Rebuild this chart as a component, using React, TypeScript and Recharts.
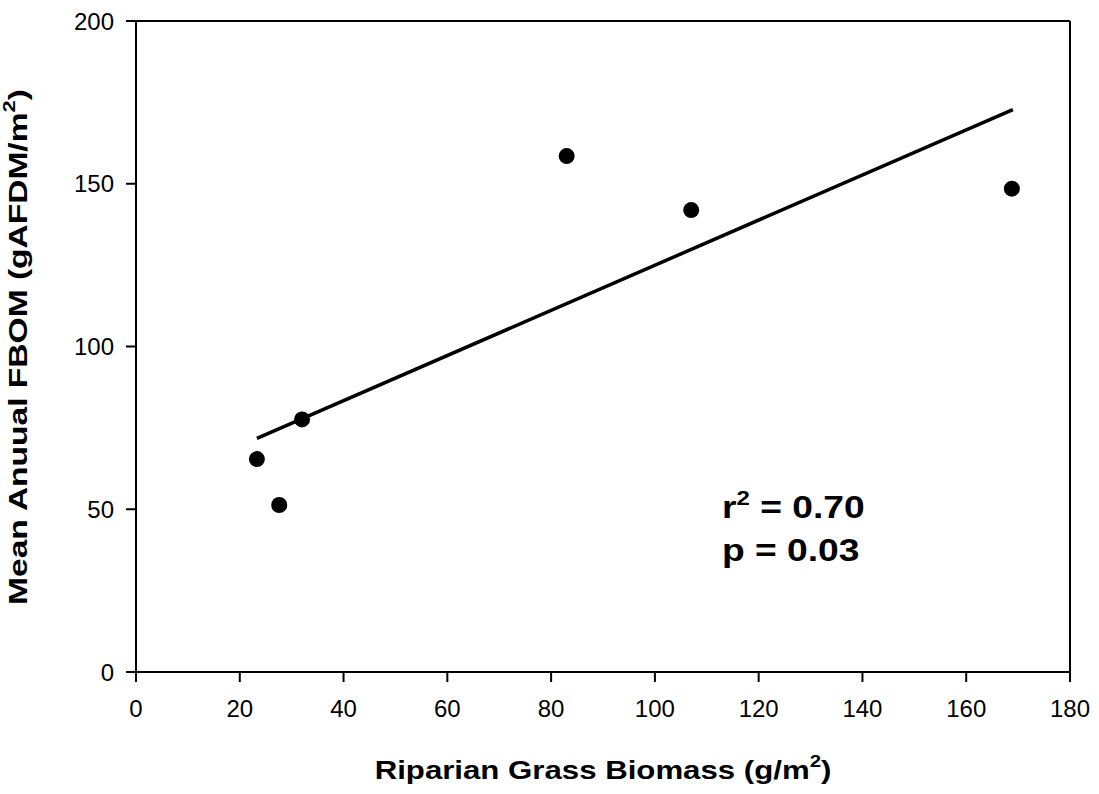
import { ReferenceLine, Scatter, ScatterChart, XAxis, YAxis } from 'recharts';

// observed sites
const biomass = [23.3, 27.6, 32, 83, 107, 168.8];
const fbom = [65.4, 51.3, 77.6, 158.5, 141.9, 148.5];

// fitted regression line end points
const fitX = [23.3, 169];
const fitY = [71.8, 172.8];

const xTicks = [0, 20, 40, 60, 80, 100, 120, 140, 160, 180];
const yTicks = [0, 50, 100, 150, 200];

const FONT = '"Liberation Sans", Arial, sans-serif';

const App = () => {
    const points = biomass.map((x, i) => ({ x, y: fbom[i] }));
    const fit = fitX.map((x, i) => ({ x, y: fitY[i] }));

    const tickStyle = { fill: '#000', fontSize: 24, fontFamily: FONT };
    const axisLine = { stroke: '#000', strokeWidth: 2 };

    return (
        <div style={{ position: 'absolute', left: 0, top: 0, width: 1099, height: 794, background: '#fff' }}>
            <ScatterChart width={1099} height={794} margin={{ top: 21, right: 29, bottom: 0, left: 0 }}>
                <XAxis type="number" dataKey="x" domain={[0, 180]} ticks={xTicks} height={122}
                    tick={tickStyle} tickSize={10} tickMargin={18} axisLine={axisLine} tickLine={axisLine} />
                <YAxis type="number" dataKey="y" domain={[0, 200]} ticks={yTicks} width={136}
                    tick={tickStyle} tickSize={10} tickMargin={12} axisLine={axisLine} tickLine={axisLine} />
                <ReferenceLine y={200} stroke="#000" strokeWidth={2} />
                <ReferenceLine x={180} stroke="#000" strokeWidth={2} />
                <Scatter data={fit} line={{ stroke: '#000', strokeWidth: 3.5 }} shape={() => <g />} isAnimationActive={false} />
                <Scatter data={points} fill="#000" shape={(p: any) => <circle cx={p.cx} cy={p.cy} r={8} fill="#000" />} isAnimationActive={false} />
            </ScatterChart>
            <svg width={1099} height={794} style={{ position: 'absolute', left: 0, top: 0, pointerEvents: 'none' }}
                fontFamily={FONT} fontWeight="bold">
                <text transform="translate(722 518) scale(1.2 1)" fontSize={31}>
                    r<tspan dy={-13} fontSize={20}>2</tspan><tspan dy={13}> = 0.70</tspan>
                </text>
                <text transform="translate(722 561) scale(1.2 1)" fontSize={31}>p = 0.03</text>
                <text transform="translate(603 779) scale(1.2 1)" fontSize={26} textAnchor="middle">
                    Riparian Grass Biomass (g/m<tspan dy={-12} fontSize={17}>2</tspan><tspan dy={12}>)</tspan>
                </text>
                <text transform="translate(27 347) rotate(-90) scale(1.29 1)" fontSize={26} textAnchor="middle">
                    Mean Anuual FBOM (gAFDM/m<tspan dy={-12} fontSize={17}>2</tspan><tspan dy={12}>)</tspan>
                </text>
            </svg>
        </div>
    );
};

export default App;
